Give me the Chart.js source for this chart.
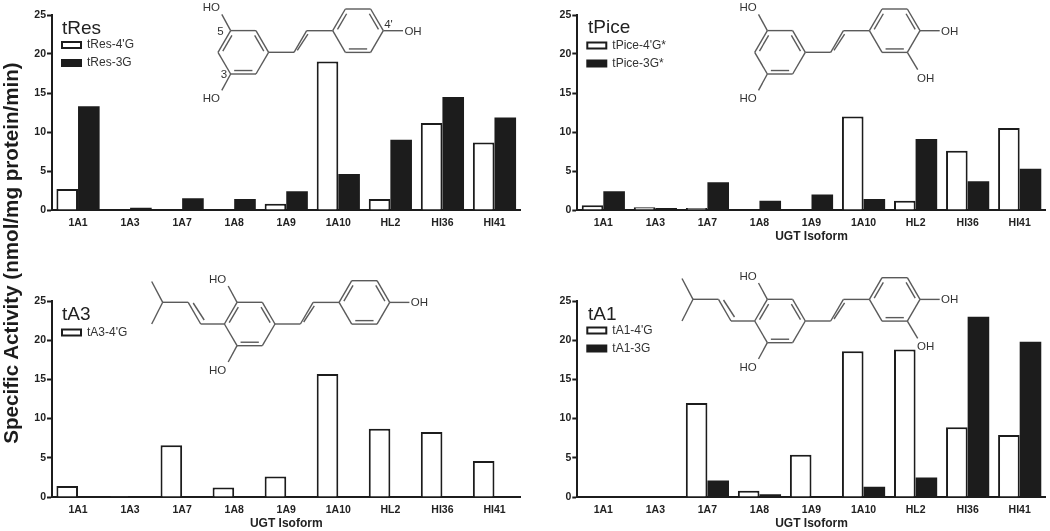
<!DOCTYPE html>
<html>
<head>
<meta charset="utf-8">
<script src="https://cdn.jsdelivr.net/npm/chart.js@4/dist/chart.umd.min.js"></script>
<style>
    html, body { margin: 0; padding: 0; background: #fff; }
    #page { position: relative; width: 1050px; height: 531px; overflow: hidden; font-family: "Liberation Sans", Arial, sans-serif; }
    .panel { position: absolute; }
    #structures { position: absolute; left: 0; top: 0; pointer-events: none; }
    #structures text { font-size: 11.5px; fill: #333; text-anchor: middle; dominant-baseline: central; }
    #structures text.name { font-size: 19px; fill: #222; text-anchor: start; dominant-baseline: auto; }
    #yTitle {
        position: absolute; left: 11px; top: 253px; white-space: nowrap;
        font-size: 20.6px; font-weight: bold; color: #1c1c1c;
        transform: translate(-50%, -50%) rotate(-90deg);
    }
</style>
</head>
<body>
<div id="page">
    <div class="panel" style="left:0;top:0;width:525px;height:250px"><canvas id="tRes"></canvas></div>
    <div class="panel" style="left:525px;top:0;width:525px;height:250px"><canvas id="tPice"></canvas></div>
    <div class="panel" style="left:0;top:260px;width:525px;height:271px"><canvas id="tA3"></canvas></div>
    <div class="panel" style="left:525px;top:260px;width:525px;height:271px"><canvas id="tA1"></canvas></div>
    <svg id="structures" width="1050" height="531"></svg>
    <div id="yTitle">Specific Activity (nmol/mg protein/min)</div>
</div>
<script>
const isoforms = ["1A1", "1A3", "1A7", "1A8", "1A9", "1A10", "HL2", "HI36", "HI41"];

const tRes4G = [2.7, 0, 0, 0, 0.8, 19.05, 1.4, 11.15, 8.65];
const tRes3G = [13.3, 0.3, 1.5, 1.4, 2.4, 4.6, 9.0, 14.5, 11.85];
const tPice4G = [0.6, 0.35, 0.25, 0, 0, 12, 1.2, 7.6, 10.5];
const tPice3G = [2.4, 0.25, 3.55, 1.2, 2.0, 1.4, 9.1, 3.7, 5.3];
const tA34G = [1.4, 0.1, 6.6, 1.2, 2.6, 15.7, 8.7, 8.3, 4.6];
const tA14G = [0, 0, 12, 0.8, 5.4, 18.6, 18.8, 8.9, 7.9];
const tA13G = [0, 0, 2.1, 0.35, 0, 1.3, 2.5, 23, 19.8];

const ink = "#1c1c1c";

// nudges the legend down and right of the corner it gets by default
const legendShift = {
    id: "legendShift",
    afterLayout(chart) {
        chart.legend.left += 4;
        chart.legend.top += chart.options.plugins.legendShift.top;
    },
};

const makeChart = (id, series, box) => {
    const datasets = series.map((s) => ({
        label: s.label,
        data: s.data,
        backgroundColor: s.filled ? ink : "#fff",
        borderColor: ink,
        // black bars get no border, it left a light seam inside the fill
        borderWidth: s.filled ? 0 : 2,
        borderSkipped: "bottom",
        barPercentage: 1,
        categoryPercentage: 0.83,
    }));

    new Chart(document.getElementById(id), {
        type: "bar",
        data: { labels: isoforms, datasets: datasets },
        plugins: [legendShift],
        options: {
            responsive: true,
            maintainAspectRatio: false,
            animation: false,
            layout: { padding: { top: box.top, right: box.right, left: 0, bottom: 0 } },
            scales: {
                x: {
                    afterFit: (scale) => { scale.height = box.bottom; },
                    grid: { drawOnChartArea: false, drawTicks: false },
                    border: { color: ink, width: 2 },
                    ticks: {
                        color: "#222",
                        padding: 7,
                        maxRotation: 0,
                        font: { family: "Liberation Sans", size: 10.5, weight: "bold" },
                    },
                    title: {
                        display: box.xTitle,
                        text: "UGT Isoform",
                        color: "#222",
                        padding: { top: 0, bottom: box.titleGap },
                        font: { family: "Liberation Sans", size: 12, weight: "bold" },
                    },
                },
                y: {
                    min: 0,
                    max: 25,
                    afterFit: (scale) => { scale.width = box.left; },
                    grid: { drawOnChartArea: false, tickLength: 5, tickWidth: 2, tickColor: ink },
                    border: { color: ink, width: 2 },
                    ticks: {
                        stepSize: 5,
                        color: "#222",
                        padding: 1,
                        font: { family: "Liberation Sans", size: 10.5, weight: "bold" },
                    },
                },
            },
            plugins: {
                tooltip: { enabled: false },
                legendShift: { top: box.legendTop },
                legend: {
                    position: "chartArea",
                    align: "start",
                    labels: {
                        filter: (item) => item.text !== "",
                        generateLabels: (chart) => chart.data.datasets.map((ds, i) => ({
                            text: ds.label,
                            fillStyle: ds.backgroundColor,
                            strokeStyle: ink,
                            lineWidth: 2,
                            fontColor: "#333",
                            datasetIndex: i,
                        })),
                        boxWidth: 19,
                        boxHeight: 6,
                        padding: 6,
                        font: { family: "Liberation Sans", size: 12 },
                    },
                },
            },
        },
    });
};

makeChart("tRes", [
    { label: "tRes-4'G", data: tRes4G },
    { label: "tRes-3G", data: tRes3G, filled: true },
], { top: 15, bottom: 40, left: 52, right: 4.5, legendTop: 33, xTitle: false, titleGap: 0 });

makeChart("tPice", [
    { label: "tPice-4'G*", data: tPice4G },
    { label: "tPice-3G*", data: tPice3G, filled: true },
], { top: 15, bottom: 40, left: 52.3, right: 4.3, legendTop: 33.5, xTitle: true, titleGap: 6 });

// tA3 only has the 4'G product, the empty series keeps the bars in the left slot
makeChart("tA3", [
    { label: "tA3-4'G", data: tA34G },
    { label: "", data: [], filled: true },
], { top: 41, bottom: 34, left: 52, right: 4.5, legendTop: 60.5, xTitle: true, titleGap: 0 });

makeChart("tA1", [
    { label: "tA1-4'G", data: tA14G },
    { label: "tA1-3G", data: tA13G, filled: true },
], { top: 41, bottom: 34, left: 52.3, right: 4.3, legendTop: 58.5, xTitle: true, titleGap: 0 });

// chemical structures and panel names, these only sit on top of the charts
const R = 25.3;
const H = 21.7;
const svg = document.getElementById("structures");
let shapes = "";

const line = (x1, y1, x2, y2) => {
    shapes += `<line x1="${x1}" y1="${y1}" x2="${x2}" y2="${y2}" stroke="#5a5a5a" stroke-width="1.4"/>`;
};
const label = (x, y, text, cls) => {
    shapes += `<text x="${x}" y="${y}" class="${cls || ""}">${text}</text>`;
};
const ring = (cx, cy, doubles) => {
    const pts = [[R, 0], [R / 2, H], [-R / 2, H], [-R, 0], [-R / 2, -H], [R / 2, -H]];
    pts.forEach((p, i) => {
        const q = pts[(i + 1) % 6];
        line(cx + p[0], cy + p[1], cx + q[0], cy + q[1]);
        if (doubles.includes(i)) {
            const a = 0.84;
            const b = 0.07;
            const ax = p[0] * a, ay = p[1] * a, bx = q[0] * a, by = q[1] * a;
            line(cx + ax + (bx - ax) * b, cy + ay + (by - ay) * b, cx + bx - (bx - ax) * b, cy + by - (by - ay) * b);
        }
    });
};
const stilbene = (ax, ay, catechol, prenyl) => {
    const bx = ax + 114.7;
    const by = ay - 21.6;
    ring(ax, ay, [1, 3, 5]);
    ring(bx, by, [1, 3, 5]);
    // vinyl bridge
    line(ax + R, ay, ax + 50.7, ay);
    line(ax + 50.7, ay, ax + 63.4, by);
    line(ax + 54, ay - 2, ax + 64.6, by + 3.5);
    line(ax + 63.4, by, bx - R, by);
    // hydroxyls on ring A
    line(ax - R / 2, ay - H, ax - 21.5, ay - 38);
    label(ax - 32, ay - 45, "HO");
    line(ax - R / 2, ay + H, ax - 21.5, ay + 38);
    label(ax - 32, ay + 46, "HO");
    // hydroxyls on ring B
    line(bx + R, by, bx + 45, by);
    label(bx + 55, by, "OH");
    if (catechol) {
        line(bx + R / 2, by + H, bx + 23, by + 39);
        label(bx + 31, by + 47, "OH");
    }
    if (prenyl) {
        line(ax - R, ay, ax - 49, ay);
        line(ax - 49, ay, ax - 61.5, ay - H);
        line(ax - 45.5, ay - 4, ax - 56.5, ay - 21);
        line(ax - 61.5, ay - H, ax - 87, ay - H);
        line(ax - 87, ay - H, ax - 98, ay - 42.5);
        line(ax - 87, ay - H, ax - 98, ay);
    }
};

stilbene(243.3, 52.3, false, false);
label(220.5, 30.5, "5");
label(224, 74, "3");
label(388.5, 24, "4'");
stilbene(780, 52.3, true, false);
stilbene(249.7, 324, false, true);
stilbene(780, 321, true, true);

label(62, 33.5, "tRes", "name");
label(588, 33, "tPice", "name");
label(62, 320, "tA3", "name");
label(588, 320, "tA1", "name");
svg.innerHTML = shapes;
</script>
</body>
</html>
